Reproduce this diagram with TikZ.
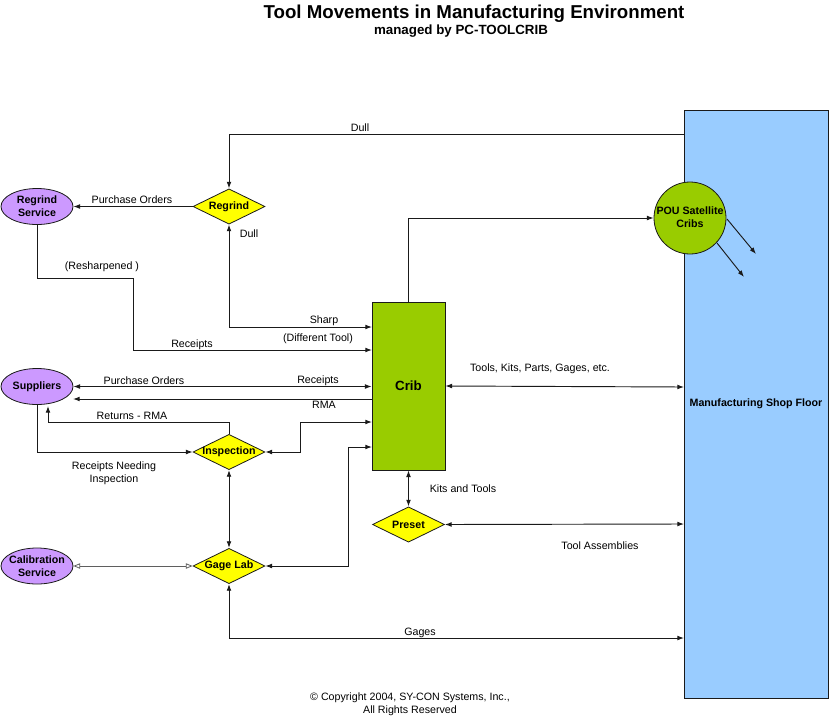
\documentclass[tikz,border=0pt]{standalone}
\usepackage{fontspec}
\setmainfont{Liberation Sans}
\usetikzlibrary{shapes.geometric,arrows.meta}
\definecolor{lav}{HTML}{CC99FF}
\definecolor{ylw}{HTML}{FFFF00}
\definecolor{grn}{HTML}{99CC00}
\definecolor{sky}{HTML}{99CCFF}
\definecolor{ln}{HTML}{1A1A1A}
\begin{document}
\begin{tikzpicture}[x=0.75pt,y=-0.75pt,
  font=\fontsize{8}{9.6}\selectfont,
  >={Latex[length=5pt,width=3.6pt]},
  conn/.style={draw=ln,line width=0.7pt},
  lbl/.style={inner sep=0pt},
  bold/.style={inner sep=0pt,font=\fontsize{8}{9.6}\selectfont\bfseries,align=center},
  dia/.style={diamond,draw=ln,fill=ylw,line width=0.6pt,inner sep=0pt,minimum width=54pt,minimum height=26.5pt},
  ell/.style={ellipse,draw=ln,fill=lav,line width=0.6pt,inner sep=0pt,minimum width=54pt,minimum height=27pt}
]
\useasboundingbox (0,0) rectangle (829,718);

% titles
\node[inner sep=0pt,font=\fontsize{14}{16}\selectfont\bfseries] (title) at (474,14) {Tool Movements in Manufacturing Environment};
\node[inner sep=0pt,font=\fontsize{10}{12}\selectfont\bfseries] (subtitle) at (461,31) {managed by PC-TOOLCRIB};

% shop floor
\node[rectangle,draw=ln,fill=sky,line width=0.6pt,minimum width=108pt,minimum height=441pt,inner sep=0pt,
  font=\fontsize{8}{9.6}\selectfont\bfseries] (floor) at (756,404) {Manufacturing Shop Floor};

% crib
\node[rectangle,draw=ln,fill=grn,line width=0.6pt,minimum width=54.75pt,minimum height=126pt,inner sep=0pt,
  font=\fontsize{10}{12}\selectfont\bfseries] (crib) at (408.5,386) {Crib};

% POU
\node[circle,draw=ln,fill=grn,line width=0.6pt,minimum size=54pt,inner sep=0pt] (pou) at (690,218) {};
\node[bold] (pout) at (690,217.5) {POU Satellite\\Cribs};

% ellipses
\node[ell] (regsvc) at (37,206.5) {};
\node[bold] (regsvct) at (37,206.5) {Regrind\\Service};
\node[ell] (sup) at (37,386.5) {};
\node[bold] (supt) at (37,386.5) {Suppliers};
\node[ell] (cal) at (37,566) {};
\node[bold] (calt) at (37,566) {Calibration\\Service};

% diamonds
\node[dia] (regrind) at (229,206.5) {};
\node[bold] (regrindt) at (229,206.5) {Regrind};
\node[dia] (insp) at (229,452) {};
\node[bold] (inspt) at (229,452) {Inspection};
\node[dia] (gage) at (229,566) {};
\node[bold] (gaget) at (229,566) {Gage Lab};
\node[dia] (preset) at (408.5,524.5) {};
\node[bold] (presett) at (408.5,524.5) {Preset};

% free ends
\coordinate (cDull) at (684,134);
\coordinate (cSharp) at (372,327);
\coordinate (cRec) at (372,350);
\coordinate (cRMA) at (372,399);
\coordinate (cRMAend) at (73,399);
\coordinate (cRet) at (48,406);
\coordinate (cInsp) at (372,422);
\coordinate (cGage) at (372,447);
\coordinate (cFloorTools) at (684,387);
\coordinate (cFloorPreset) at (684,524);
\coordinate (cFloorGages) at (684,638);
\coordinate (cP1a) at (727,219);
\coordinate (cP1b) at (756,254);
\coordinate (cP2a) at (717,243);
\coordinate (cP2b) at (744,277);

% connectors
\draw[conn,->] (cDull) -| (regrind.north);
\draw[conn,->] (regrind.west) -- (regsvc.east);
\draw[conn,<->] (regrind.south) |- (cSharp);
\draw[conn,->] (regsvc.south) |- (133,278) |- (cRec);
\draw[conn,->] (crib.north) |- (pou.west);
\draw[conn,->] (cP1a) -- (cP1b);
\draw[conn,->] (cP2a) -- (cP2b);
\draw[conn,<->] (sup.east) -- (crib.west |- sup.east);
\draw[conn,->] (cRMA) -- (cRMAend);
\draw[conn,->] (insp.north) |- (48,422) -- (cRet);
\draw[conn,->] (sup.south) |- (insp.west);
\draw[conn,<->] (insp.east) -- (300,452) |- (cInsp);
\draw[conn,<->] (insp.south) -- (gage.north);
\draw[conn,<->] (gage.east) -- (348,566) |- (cGage);
\draw[draw=ln!70,line width=0.6pt,{Triangle[open,length=5pt,width=4pt]}-{Triangle[open,length=5pt,width=4pt]}] (cal.east) -- (gage.west);
\draw[conn,<->] (gage.south) |- (cFloorGages);
\draw[conn,<->] (crib.south) -- (preset.north);
\draw[conn,<->] (preset.east) -- (cFloorPreset);
\draw[conn,<->] (crib.east) -- (cFloorTools);

% labels
\node[lbl] (lDull1) at (360,127.5) {Dull};
\node[lbl] (lPO1) at (132,199.5) {Purchase Orders};
\node[lbl] (lDull2) at (249,233.5) {Dull};
\node[lbl] (lResh) at (102,266.5) {(Resharpened )};
\node[lbl] (lSharp) at (324,320.5) {Sharp};
\node[lbl] (lDiff) at (318,338.5) {(Different Tool)};
\node[lbl] (lRec1) at (192,344.5) {Receipts};
\node[lbl] (lPO2) at (144,380.5) {Purchase Orders};
\node[lbl] (lRec2) at (318,380.5) {Receipts};
\node[lbl] (lRMA) at (324,404.5) {RMA};
\node[lbl] (lRet) at (132,415.5) {Returns - RMA};
\node[lbl,align=center] (lRNI) at (114,473) {Receipts Needing\\Inspection};
\node[lbl] (lTools) at (540,368.5) {Tools, Kits, Parts, Gages, etc.};
\node[lbl] (lKits) at (463,488.5) {Kits and Tools};
\node[lbl] (lAssy) at (600,545.5) {Tool Assemblies};
\node[lbl] (lGages) at (420,632.5) {Gages};
\node[lbl,align=center] (lCopy) at (410,704) {\textcopyright{} Copyright 2004, SY-CON Systems, Inc.,\\All Rights Reserved};
\end{tikzpicture}
\end{document}
